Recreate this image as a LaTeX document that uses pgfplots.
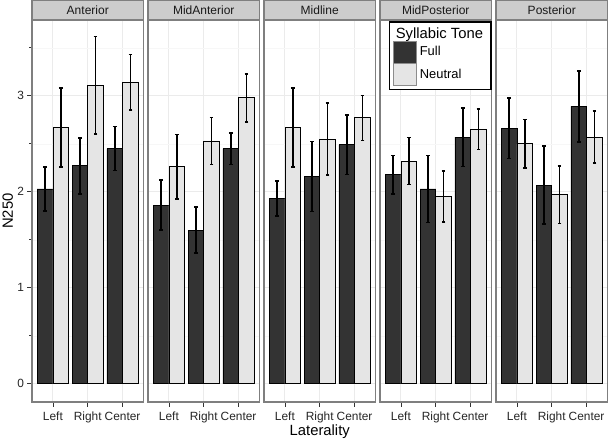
\documentclass[border=0pt]{standalone}
\usepackage{fontspec}
\setmainfont{Liberation Sans}
\usepackage{pgfplots}
\pgfplotsset{compat=1.18}
\usepackage{pgfplotstable}

\definecolor{full}{HTML}{333333}
\definecolor{neutral}{HTML}{E5E5E5}
\definecolor{gridmaj}{HTML}{EBEBEB}
\definecolor{gridmin}{HTML}{F7F7F7}
\definecolor{frame}{HTML}{7F7F7F}
\definecolor{strip}{HTML}{CCCCCC}

% x: 1=Left 2=Right 3=Center; F/N = Full/Neutral mean, Fe/Ne = error
\pgfplotstableread{
x F    Fe    N    Ne
1 2.03 0.23  2.67 0.41
2 2.27 0.29  3.11 0.51
3 2.45 0.23  3.14 0.29
}\tabAnt
\pgfplotstableread{
x F    Fe    N    Ne
1 1.86 0.26  2.26 0.335
2 1.60 0.24  2.53 0.245
3 2.45 0.165 2.98 0.25
}\tabMidAnt
\pgfplotstableread{
x F    Fe    N    Ne
1 1.93 0.185 2.67 0.41
2 2.16 0.365 2.55 0.375
3 2.49 0.31  2.77 0.235
}\tabMid
\pgfplotstableread{
x F    Fe    N    Ne
1 2.18 0.20  2.32 0.245
2 2.03 0.35  1.95 0.265
3 2.57 0.305 2.65 0.21
}\tabMidPost
\pgfplotstableread{
x F    Fe    N    Ne
1 2.66 0.315 2.50 0.255
2 2.07 0.405 1.97 0.30
3 2.89 0.37  2.57 0.27
}\tabPost

\pgfplotsset{
  panel/.style={
    scale only axis, width=111.5pt, height=382pt, anchor=south west,
    xmin=0.4, xmax=3.6, ymin=-0.19, ymax=3.79,
    xtick={1,2,3}, xticklabels={Left,Right,Center},
    ytick={0,1,2,3}, minor ytick={0.5,1.5,2.5,3.5},
    grid=both,
    major grid style={gridmaj, line width=0.9pt},
    minor grid style={gridmin, line width=0.5pt},
    axis line style={frame, line width=1.1pt},
    tick pos=left, tick align=outside, major tick length=4.5pt,
    every tick/.style={black!80, line width=0.8pt},
    ticklabel style={font=\fontsize{11.9}{13}\selectfont, text=black!85},
    xticklabel style={yshift=-2pt},
    /pgf/number format/assume math mode=true,
    ybar, bar width=0.45, clip=false,
    legend image code/.code={\draw[#1, draw=black!45, line width=0.5pt] (0pt,-11pt) rectangle (23pt,11pt);},
  },
  inner/.style={yticklabels={}, ytick style={draw=none}},
  ebars/.style={error bars/.cd, y dir=both, y explicit,
    error bar style={black, line width=1.7pt},
    error mark options={rotate=90, black, line width=1.6pt, mark size=1.9pt}},
  fullbar/.style={fill=full, draw=black, line width=0.8pt, bar shift=-0.225, ebars},
  neutbar/.style={fill=neutral, draw=black, line width=0.8pt, bar shift=0.225, ebars},
}

\newcommand{\strip}[1]{%
  \draw[fill=strip, draw=frame, line width=1.1pt] (rel axis cs:0,1) rectangle ([yshift=19.5pt]rel axis cs:1,1);
  \node[font=\fontsize{12}{14}\selectfont, text=black!90] at ([yshift=9.75pt]rel axis cs:0.5,1) {#1};}

\begin{document}
\begin{tikzpicture}
\useasboundingbox (0,0) rectangle (608pt,440pt);

\begin{axis}[panel, at={(32pt,38pt)}]
\addplot[fullbar] table[x=x, y=F, y error=Fe] {\tabAnt};
\addplot[neutbar] table[x=x, y=N, y error=Ne] {\tabAnt};
\strip{Anterior}
\end{axis}

\begin{axis}[panel, inner, at={(148pt,38pt)}]
\addplot[fullbar] table[x=x, y=F, y error=Fe] {\tabMidAnt};
\addplot[neutbar] table[x=x, y=N, y error=Ne] {\tabMidAnt};
\strip{MidAnterior}
\end{axis}

\begin{axis}[panel, inner, at={(264pt,38pt)}]
\addplot[fullbar] table[x=x, y=F, y error=Fe] {\tabMid};
\addplot[neutbar] table[x=x, y=N, y error=Ne] {\tabMid};
\strip{Midline}
\end{axis}

\begin{axis}[panel, inner, at={(380pt,38pt)},
  legend style={at={([yshift=-1.3pt]rel axis cs:1,1)}, anchor=north east,
    draw=black, line width=1.3pt, fill=white, inner xsep=4pt, inner ysep=4pt,
    row sep=0pt, font=\fontsize{12.9}{15}\selectfont,
    nodes={inner xsep=3pt, inner ysep=1pt, anchor=west}},
  legend cell align=left]
\addlegendimage{empty legend}
\addlegendentry{\fontsize{14.8}{17}\selectfont\rule[-4pt]{0pt}{15.35pt}\makebox[64pt][l]{\hspace{-24pt}Syllabic Tone}}
\addplot[fullbar] table[x=x, y=F, y error=Fe] {\tabMidPost};
\addlegendentry{Full}
\addplot[neutbar] table[x=x, y=N, y error=Ne] {\tabMidPost};
\addlegendentry{Neutral}
\strip{MidPosterior}
\end{axis}

\begin{axis}[panel, inner, at={(496pt,38pt)}]
\addplot[fullbar] table[x=x, y=F, y error=Fe] {\tabPost};
\addplot[neutbar] table[x=x, y=N, y error=Ne] {\tabPost};
\strip{Posterior}
\end{axis}

\node[rotate=90, anchor=base, font=\fontsize{14.8}{17}\selectfont] at (13pt,229pt) {N250};
\node[anchor=base, font=\fontsize{14.8}{17}\selectfont] at (319.75pt,4.3pt) {Laterality};
\end{tikzpicture}
\end{document}
